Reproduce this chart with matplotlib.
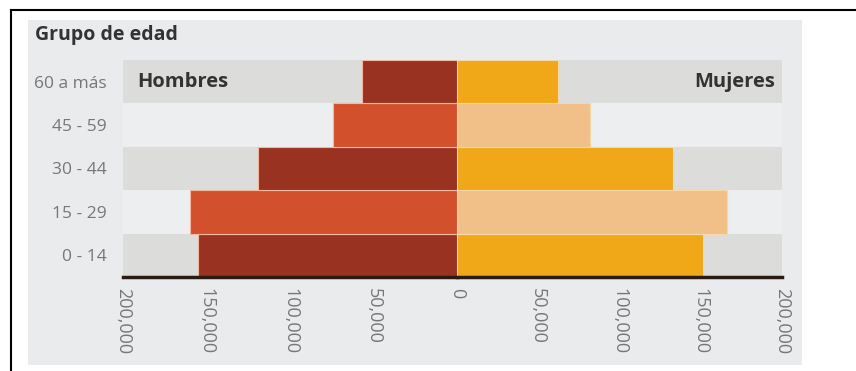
import matplotlib.pyplot as plt
from matplotlib.patches import Rectangle
from matplotlib.ticker import FuncFormatter

# Age groups, bottom to top
grupos = ['0 - 14', '15 - 29', '30 - 44', '45 - 59', '60 a más']
hombres = [155000, 160000, 119000, 74000, 57000]
mujeres = [151500, 166000, 133000, 82000, 62000]
ticks_h = [-200000, -150000, -100000, -50000, 0]
ticks_m = [50000, 100000, 150000, 200000]

col_h = ['#9a3222', '#d2502c', '#9a3222', '#d2502c', '#9a3222']
col_m = ['#f0a818', '#f0c088', '#f0a818', '#f0c088', '#f0a818']
col_stripe = ['#dcdcda', '#eceef0', '#dcdcda', '#eceef0', '#dcdcda']

W, H = 856, 371
fig = plt.figure(figsize=(W / 100, H / 100), dpi=100)
fig.patch.set_facecolor('white')

# background layer: gray panel and black frame (pixel coords)
bg = fig.add_axes([0, 0, 1, 1], zorder=0)
bg.set_xlim(0, W)
bg.set_ylim(H, 0)
bg.axis('off')
bg.add_patch(Rectangle((28, 20), 802 - 28, 365 - 20, facecolor='#e9ebed', edgecolor='none'))
bg.plot([11, W], [10, 10], color='black', lw=1.5)
bg.plot([11, 11], [10, H], color='black', lw=1.5)
bg.text(35, 35, 'Grupo de edad', fontsize=14, fontweight='bold',
        color='#333333', va='center', ha='left', family='Open Sans')

b, h = 1 - 277 / H, 217 / H
axL = fig.add_axes([123 / W, b, 334 / W, h], zorder=1)
axR = fig.add_axes([457 / W, b, 325 / W, h], zorder=1)

y = list(range(len(grupos)))
fmt = FuncFormatter(lambda v, p: f'{abs(int(v)):,}')

axL.barh(y, [-200000] * 5, height=1.0, color=col_stripe, zorder=1)
axL.barh(y, [-v for v in hombres], height=1.0, color=col_h, edgecolor='#f3b8a0',
         linewidth=0.8, zorder=2)
axL.set_xlim(-200000, 0)
axL.set_xticks(ticks_h)

axR.barh(y, [200000] * 5, height=1.0, color=col_stripe, zorder=1)
axR.barh(y, mujeres, height=1.0, color=col_m, edgecolor='#f8d8a8', linewidth=0.8, zorder=2)
axR.set_xlim(0, 200000)
axR.set_xticks(ticks_m)

for ax in (axL, axR):
    ax.set_facecolor('none')
    ax.set_ylim(-0.5, 4.5)
    ax.xaxis.set_major_formatter(fmt)
    for lab in ax.get_xticklabels():
        lab.set_rotation(-90)
        lab.set_fontsize(13)
        lab.set_color('#777777')
        lab.set_family('Open Sans')
    ax.tick_params(length=0, pad=8)
    for s in ['top', 'right', 'left']:
        ax.spines[s].set_visible(False)
    ax.spines['bottom'].set_color('#2a1a14')
    ax.spines['bottom'].set_linewidth(2.5)
    ax.spines['bottom'].set_zorder(5)

axL.set_yticks(y)
axL.set_yticklabels(grupos, fontsize=12.5, color='#777777', family='Open Sans')
axL.tick_params(axis='y', pad=12)
axR.set_yticks([])

axL.text(-191500, 4, 'Hombres', fontsize=14.5, fontweight='bold', color='#333333',
         va='center', ha='left', family='Open Sans', zorder=3)
axR.text(195500, 4, 'Mujeres', fontsize=14.5, fontweight='bold', color='#333333',
         va='center', ha='right', family='Open Sans', zorder=3)

fig.savefig('out.png', dpi=100)
